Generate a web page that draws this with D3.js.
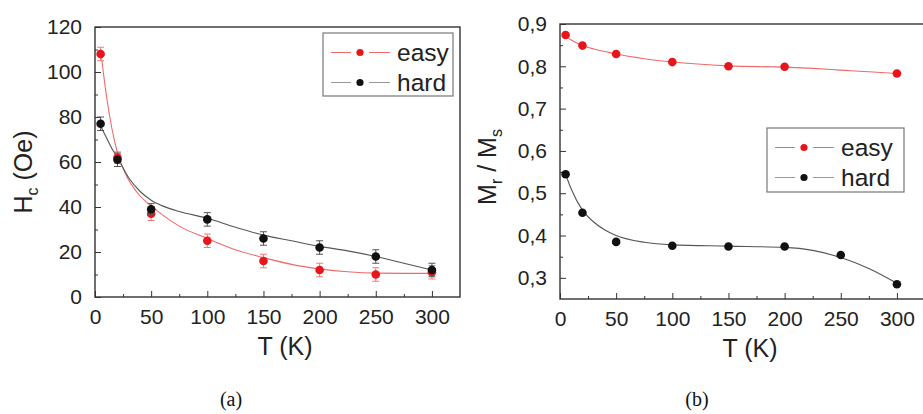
<!DOCTYPE html>
<html><head><meta charset="utf-8">
<script src="https://cdn.jsdelivr.net/npm/d3@7"></script>
<style>
body{margin:0;background:#fff;}
svg{display:block;font-family:"Liberation Sans",Arial,sans-serif;}
</style></head>
<body><svg id="c" width="923" height="414"></svg>
<script>
// ---------- data ----------
const temps = [5, 20, 50, 100, 150, 200, 250, 300];
// panel (a): coercive field Hc (Oe)
const hcEasy = [108, 62, 37, 25, 16, 12, 10, 11];
const hcHard = [77, 61, 39, 34.5, 26, 22, 18, 12];
const hcEasyErr = [3, 2.5, 3, 3, 3, 3, 3, 3];
const hcHardErr = [3, 3, 2.5, 3, 3, 3, 3, 3];
// fitted guide curves
const fitTA = [5, 10, 15, 20, 30, 40, 50, 60, 75, 100, 125, 150, 175, 200, 225, 250, 275, 300];
const fitHcEasy = [110, 90, 75, 64, 52, 45, 40.5, 36.5, 31.5, 26, 21, 17.5, 14.5, 12.5, 11.2, 10.6, 10.5, 10.5];
const fitHcHard = [76, 71, 66, 62, 53, 47, 43, 40.5, 38, 35, 31, 27.5, 25, 22.5, 20.5, 18, 15, 12];
// panel (b): Mr / Ms
const tempsEasyB = [5, 20, 50, 100, 150, 200, 300];
const mrEasy = [0.874, 0.849, 0.829, 0.810, 0.800, 0.799, 0.783];
const mrHard = [0.545, 0.454, 0.385, 0.376, 0.374, 0.374, 0.354, 0.285];
const fitTB = [5, 10, 20, 30, 40, 50, 75, 100, 150, 200, 225, 250, 275, 300];
const fitMrEasy = [0.872, 0.862, 0.849, 0.841, 0.835, 0.829, 0.818, 0.810, 0.801, 0.798, 0.795, 0.791, 0.787, 0.783];
const fitMrHard = [0.545, 0.51, 0.46, 0.432, 0.413, 0.400, 0.384, 0.378, 0.375, 0.372, 0.365, 0.348, 0.322, 0.287];
const xTicks = [0, 50, 100, 150, 200, 250, 300];
const yTicksA = [0, 20, 40, 60, 80, 100, 120];
const yTicksB = [0.3, 0.4, 0.5, 0.6, 0.7, 0.8, 0.9];
const seriesNames = ["easy", "hard"];
const captions = ["(a)", "(b)"];

// ---------- styles ----------
const RED = "#e8151b", RED_LINE = "#f06a6a", BLK = "#111", BLK_LINE = "#555", FRAME = "#333";
const svg = d3.select("#c");
const fmtB = d => d3.format(".1f")(d).replace(".", ",");

function panel(opt) {
  const g = svg.append("g");
  const x = d3.scaleLinear().domain([0, 325]).range([opt.left, opt.left + 365]);
  const y = d3.scaleLinear().domain(opt.yDomain).range([opt.bottom, opt.top]);
  // minor ticks
  const xMinor = d3.range(25, 325, 50);
  const yMinor = opt.yMinor;
  g.append("g").attr("transform", `translate(0,${opt.bottom})`)
    .call(d3.axisTop(x).tickValues(xMinor).tickSize(3).tickFormat(""))
    .call(a => a.select(".domain").remove()).selectAll("line").attr("stroke", FRAME);
  g.append("g").attr("transform", `translate(${opt.left},0)`)
    .call(d3.axisRight(y).tickValues(yMinor).tickSize(3).tickFormat(""))
    .call(a => a.select(".domain").remove()).selectAll("line").attr("stroke", FRAME);
  // major x axis (ticks inside)
  const xa = g.append("g").attr("transform", `translate(0,${opt.bottom})`)
    .call(d3.axisBottom(x).tickValues(xTicks).tickSizeInner(-6).tickSizeOuter(0).tickPadding(12));
  xa.select(".domain").remove();
  xa.selectAll("line").attr("stroke", FRAME);
  xa.selectAll("text").attr("font-size", 21).attr("fill", "#222")
    .attr("font-family", "Liberation Sans, Arial, sans-serif");
  const ya = g.append("g").attr("transform", `translate(${opt.left},0)`)
    .call(d3.axisLeft(y).tickValues(opt.yTicks).tickFormat(opt.fmt).tickSizeInner(-6).tickSizeOuter(0).tickPadding(13));
  ya.select(".domain").remove();
  ya.selectAll("line").attr("stroke", FRAME);
  ya.selectAll("text").attr("font-size", 21).attr("fill", "#222")
    .attr("font-family", "Liberation Sans, Arial, sans-serif");
  // frame
  g.append("rect").attr("x", opt.left).attr("y", opt.top)
    .attr("width", 365).attr("height", opt.bottom - opt.top)
    .attr("fill", "none").attr("stroke", FRAME).attr("stroke-width", 1.4);
  // fit curves
  const line = d3.line().x(d => x(d[0])).y(d => y(d[1])).curve(d3.curveMonotoneX);
  opt.fits.forEach(f => {
    g.append("path").datum(f.t.map((t, i) => [t, f.v[i]]))
      .attr("d", line).attr("fill", "none").attr("stroke", f.color).attr("stroke-width", 1.1);
  });
  // points + error bars
  opt.series.forEach(s => {
    const pts = s.t.map((t, i) => ({t, v: s.v[i], e: s.e ? s.e[i] : 0}));
    if (s.e) {
      const eb = g.append("g").attr("stroke", s.errColor).attr("stroke-width", 1);
      pts.forEach(p => {
        eb.append("line").attr("x1", x(p.t)).attr("x2", x(p.t)).attr("y1", y(p.v - p.e)).attr("y2", y(p.v + p.e));
        [p.v - p.e, p.v + p.e].forEach(v => eb.append("line")
          .attr("x1", x(p.t) - 3.5).attr("x2", x(p.t) + 3.5).attr("y1", y(v)).attr("y2", y(v)));
      });
    }
    g.append("g").selectAll("circle").data(pts).join("circle")
      .attr("cx", p => x(p.t)).attr("cy", p => y(p.v)).attr("r", 4.3).attr("fill", s.color);
  });
  // legend
  const L = opt.legend;
  const lg = g.append("g");
  lg.append("rect").attr("x", L.x).attr("y", L.y).attr("width", L.w).attr("height", L.h)
    .attr("fill", "#fff").attr("stroke", "#777").attr("stroke-width", 1.2);
  seriesNames.forEach((n, i) => {
    const cy = L.y + 19.5 + i * 30;
    const col = i === 0 ? RED : BLK, lc = i === 0 ? RED_LINE : "#999";
    lg.append("line").attr("x1", L.x + 8).attr("x2", L.x + 28).attr("y1", cy).attr("y2", cy).attr("stroke", lc).attr("stroke-width", 1);
    lg.append("line").attr("x1", L.x + 46).attr("x2", L.x + 67).attr("y1", cy).attr("y2", cy).attr("stroke", lc).attr("stroke-width", 1);
    lg.append("circle").attr("cx", L.x + 37).attr("cy", cy).attr("r", 3.6).attr("fill", col);
    lg.append("text").attr("x", L.x + 74).attr("y", cy + 8.5).attr("font-size", 24.5).attr("fill", "#222").text(n);
  });
  // axis titles
  g.append("text").attr("x", opt.left + 190).attr("y", opt.bottom + 58).attr("text-anchor", "middle")
    .attr("font-size", 25).attr("fill", "#222").text("T (K)");
  const yt = g.append("text").attr("transform", `translate(${opt.yTitleX},${opt.yTitleY}) rotate(-90)`)
    .attr("text-anchor", "middle").attr("font-size", 25).attr("fill", "#222");
  opt.yTitle(yt);
  // caption
  svg.append("text").attr("x", opt.capX).attr("y", 406).attr("text-anchor", "middle")
    .attr("font-family", "Liberation Serif, DejaVu Serif, serif").attr("font-size", 20).attr("fill", "#111")
    .text(opt.caption);
}

panel({
  left: 95, top: 27, bottom: 297, yDomain: [0, 120], yTicks: yTicksA,
  yMinor: d3.range(10, 120, 20), fmt: d3.format("d"),
  fits: [{t: fitTA, v: fitHcEasy, color: RED_LINE}, {t: fitTA, v: fitHcHard, color: BLK_LINE}],
  series: [
    {t: temps, v: hcEasy, e: hcEasyErr, color: RED, errColor: "#f07a7a"},
    {t: temps, v: hcHard, e: hcHardErr, color: BLK, errColor: "#555"}
  ],
  legend: {x: 323, y: 33, w: 130, h: 63},
  yTitleX: 32, yTitleY: 172,
  yTitle: t => { t.append("tspan").text("H"); t.append("tspan").attr("font-size", 16).attr("dy", 6).text("c");
                 t.append("tspan").attr("dy", -6).text(" (Oe)"); },
  caption: captions[0], capX: 231
});

panel({
  left: 560, top: 24, bottom: 299, yDomain: [0.25, 0.9], yTicks: yTicksB,
  yMinor: [0.35, 0.45, 0.55, 0.65, 0.75, 0.85], fmt: fmtB,
  fits: [{t: fitTB, v: fitMrEasy, color: RED_LINE}, {t: fitTB, v: fitMrHard, color: BLK_LINE}],
  series: [
    {t: tempsEasyB, v: mrEasy, color: RED},
    {t: temps, v: mrHard, color: BLK}
  ],
  legend: {x: 767, y: 128, w: 137, h: 64},
  yTitleX: 496, yTitleY: 167,
  yTitle: t => { t.append("tspan").text("M"); t.append("tspan").attr("font-size", 16).attr("dy", 6).text("r");
                 t.append("tspan").attr("dy", -6).text(" / M"); t.append("tspan").attr("font-size", 16).attr("dy", 6).text("s"); },
  caption: captions[1], capX: 697
});
</script></body></html>
